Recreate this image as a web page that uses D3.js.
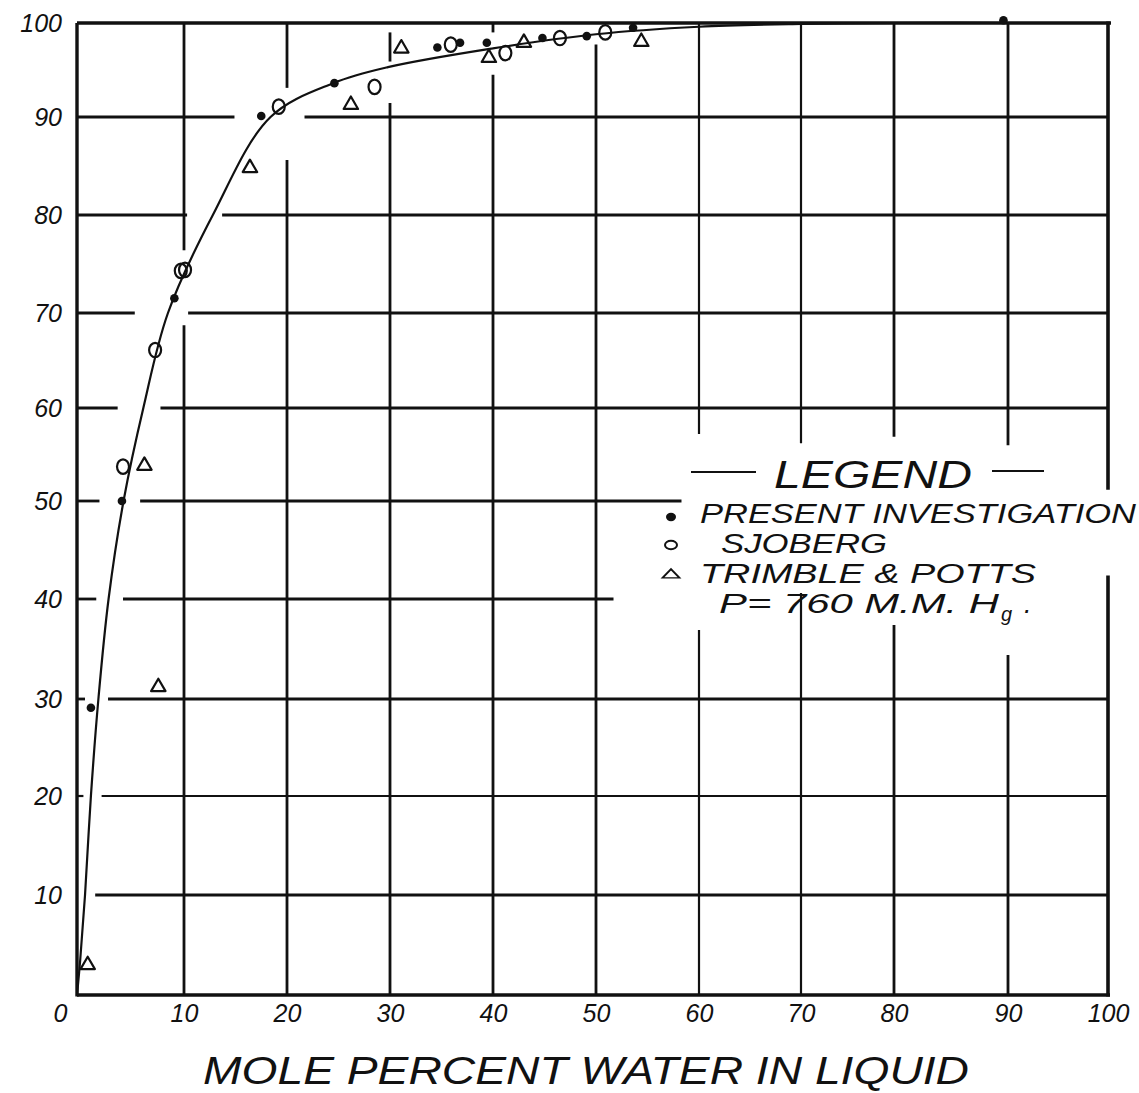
<!DOCTYPE html>
<html>
<head>
<meta charset="utf-8">
<script src="https://cdn.jsdelivr.net/npm/d3@7"></script>
<style>
  html, body { margin: 0; padding: 0; background: #fff; }
  svg { display: block; }
  text { font-family: "Liberation Sans", Arial, sans-serif; font-style: italic; fill: #111; }
</style>
</head>
<body>
<svg id="chart" width="1139" height="1093"></svg>
<script>
// ---------------- data ----------------
const xTicks = [0, 10, 20, 30, 40, 50, 60, 70, 80, 90, 100];
const yTicks = [0, 10, 20, 30, 40, 50, 60, 70, 80, 90, 100];
const xTickLabels = ["0", "10", "20", "30", "40", "50", "60", "70", "80", "90", "100"];
const yTickLabels = ["", "10", "20", "30", "40", "50", "60", "70", "80", "90", "100"];

// Present investigation (filled dots)
const presentX = [1.3, 4.2, 9.1, 17.5, 24.6, 34.6, 36.8, 39.4, 44.8, 49.1, 53.6, 89.6];
const presentY = [29.1, 50.0, 71.5, 90.1, 93.6, 97.4, 97.9, 97.9, 98.4, 98.6, 99.5, 100.3];

// Sjoberg (open circles)
const sjobergX = [4.3, 7.3, 9.7, 10.1, 19.2, 28.5, 35.9, 41.2, 46.5, 50.9];
const sjobergY = [53.7, 66.1, 74.3, 74.4, 91.1, 93.2, 97.7, 96.8, 98.4, 99.0];

// Trimble & Potts (open triangles)
const trimbleX = [1.0, 6.3, 7.6, 16.4, 26.2, 31.1, 39.6, 43.0, 54.4];
const trimbleY = [3.0, 53.8, 31.2, 84.8, 91.3, 97.3, 96.3, 97.9, 98.0];

// Smooth curve drawn through the data
const curveX = [0, 0.3, 0.75, 1.3, 2.0, 2.95, 4.35, 6.2, 8.5, 12.8, 18.4, 24.5, 29.8, 40, 50, 60, 70, 80, 90, 100];
const curveY = [0, 3.5, 10, 20, 30, 40, 50, 60, 70, 80, 90, 93.6, 95.3, 97.3, 98.8, 99.6, 99.9, 100, 100, 100];

const xTitle = "MOLE PERCENT WATER IN LIQUID";
const legendTitle = "LEGEND";
const legendLabels = ["PRESENT INVESTIGATION", "SJOBERG", "TRIMBLE & POTTS"];
const pressureNote = "P= 760 M.M. H";
const pressureSub = "g";

// ---------------- layout / style ----------------
// hand-ruled grid: the scales follow the drawn grid lines
const x = d3.scaleLinear().domain(xTicks).range([77, 184, 287, 390, 493, 596, 699, 801, 894, 1008, 1108]);
const y = d3.scaleLinear().domain(yTicks).range([995, 895, 796, 699, 599, 501, 408, 313, 215, 117, 23]);

// erased portions of the grid lines (data units), as on the drawing
const hGaps = {
  10: [[0, 1.7]], 20: [[0.6, 2.3]], 30: [[0.75, 2.9]], 40: [[1.8, 4.3], [51.7, 100]],
  50: [[2.1, 5.9], [58.3, 100]], 60: [[3.8, 7.8]], 70: [[5.4, 10.4]], 80: [[10.3, 13.7]], 90: [[14.9, 21.7]]
};
const vGaps = {
  10: [[68.7, 76.4]], 20: [[85.6, 93.1]], 30: [[91.5, 95.9], [99.0, 100]], 40: [[94.5, 99.0]],
  50: [[97.7, 100]], 60: [[36.9, 57.2]], 70: [[40.6, 56.2]], 80: [[37.4, 56.9]], 90: [[34.4, 56.0]], 100: [[42.4, 51.2]]
};

function segments(gaps) {
  const out = [];
  let start = 0;
  (gaps || []).slice().sort((a, b) => a[0] - b[0]).forEach(g => {
    if (g[0] > start) out.push([start, g[0]]);
    start = Math.max(start, g[1]);
  });
  if (start < 100) out.push([start, 100]);
  return out;
}

const svg = d3.select("#chart");
svg.append("rect").attr("width", 1139).attr("height", 1093).attr("fill", "#fff");

const ink = "#111";
const grid = svg.append("g").attr("stroke", ink).attr("stroke-linecap", "butt");

// horizontal grid lines
yTicks.filter(v => v > 0 && v < 100).forEach(v => {
  segments(hGaps[v]).forEach(s => {
    grid.append("line")
      .attr("x1", x(s[0])).attr("x2", x(s[1]))
      .attr("y1", y(v)).attr("y2", y(v))
      .attr("stroke-width", v === 20 ? 2.2 : 2.8);
  });
});
// vertical grid lines
xTicks.filter(v => v > 0 && v < 100).forEach(v => {
  segments(vGaps[v]).forEach(s => {
    grid.append("line")
      .attr("x1", x(v)).attr("x2", x(v))
      .attr("y1", y(s[0])).attr("y2", y(s[1]))
      .attr("stroke-width", (v === 60 || v === 70) ? 2.2 : 2.8);
  });
});
// frame
grid.append("line").attr("x1", x(0)).attr("x2", x(100) + 3).attr("y1", y(100)).attr("y2", y(100)).attr("stroke-width", 3.6);
grid.append("line").attr("x1", x(0)).attr("x2", x(100) + 2).attr("y1", y(0)).attr("y2", y(0)).attr("stroke-width", 3.4);
grid.append("line").attr("x1", x(0)).attr("x2", x(0)).attr("y1", y(0) + 1.5).attr("y2", y(100)).attr("stroke-width", 3.4);
segments(vGaps[100]).forEach(s => {
  grid.append("line").attr("x1", x(100)).attr("x2", x(100))
    .attr("y1", y(s[0]) + (s[0] === 0 ? 1.5 : 0)).attr("y2", y(s[1]) - (s[1] === 100 ? 1.5 : 0))
    .attr("stroke-width", 3.6);
});

// axes (labels only)
const gx = svg.append("g").attr("transform", `translate(0,${y(0)})`)
  .call(d3.axisBottom(x).tickValues(xTicks).tickSize(0).tickPadding(9)
    .tickFormat((d, i) => xTickLabels[i]));
gx.select(".domain").remove();
gx.selectAll("text").attr("font-size", 25).attr("dx", d => d === 0 ? -17 : 0);

const gy = svg.append("g").attr("transform", `translate(${x(0)},0)`)
  .call(d3.axisLeft(y).tickValues(yTicks).tickSize(0).tickPadding(15)
    .tickFormat((d, i) => yTickLabels[i]));
gy.select(".domain").remove();
gy.selectAll("text").attr("font-size", 25);

// curve
const curvePts = curveX.map((v, i) => [v, curveY[i]]);
svg.append("path")
  .datum(curvePts)
  .attr("fill", "none").attr("stroke", ink).attr("stroke-width", 2.2)
  .attr("d", d3.line().x(d => x(d[0])).y(d => y(d[1])).curve(d3.curveCatmullRom.alpha(0.5)));

// markers
const present = presentX.map((v, i) => [v, presentY[i]]);
const sjoberg = sjobergX.map((v, i) => [v, sjobergY[i]]);
const trimble = trimbleX.map((v, i) => [v, trimbleY[i]]);

svg.append("g").selectAll("ellipse").data(sjoberg).join("ellipse")
  .attr("cx", d => x(d[0])).attr("cy", d => y(d[1]))
  .attr("rx", 6).attr("ry", 7.2)
  .attr("fill", "none").attr("stroke", ink).attr("stroke-width", 2.2);

const tri = d3.symbol().type(d3.symbolTriangle).size(90);
svg.append("g").selectAll("path").data(trimble).join("path")
  .attr("transform", d => `translate(${x(d[0])},${y(d[1])})`)
  .attr("d", tri)
  .attr("fill", "none").attr("stroke", ink).attr("stroke-width", 2.2).attr("stroke-linejoin", "round");

svg.append("g").selectAll("circle").data(present).join("circle")
  .attr("cx", d => x(d[0])).attr("cy", d => y(d[1]))
  .attr("r", 4.3).attr("fill", ink);

// legend
const lg = svg.append("g");
lg.append("line").attr("x1", 691).attr("x2", 756).attr("y1", 472).attr("y2", 472).attr("stroke", ink).attr("stroke-width", 2);
lg.append("line").attr("x1", 992).attr("x2", 1044).attr("y1", 471).attr("y2", 471).attr("stroke", ink).attr("stroke-width", 2);
lg.append("text").attr("x", 774).attr("y", 488).attr("font-size", 38)
  .attr("textLength", 198).attr("lengthAdjust", "spacingAndGlyphs").text(legendTitle);

lg.append("ellipse").attr("cx", 671).attr("cy", 517).attr("rx", 5).attr("ry", 4.2).attr("fill", ink);
lg.append("ellipse").attr("cx", 671).attr("cy", 545).attr("rx", 6).attr("ry", 4.2)
  .attr("fill", "none").attr("stroke", ink).attr("stroke-width", 2);
lg.append("path").attr("transform", "translate(671,575) scale(1.25,0.75)")
  .attr("d", d3.symbol().type(d3.symbolTriangle).size(80))
  .attr("fill", "none").attr("stroke", ink).attr("stroke-width", 1.8);

const legendRows = [
  { x: 700, y: 523, len: 436 },
  { x: 721, y: 553, len: 166 },
  { x: 700, y: 583, len: 336 }
];
legendLabels.forEach((t, i) => {
  lg.append("text").attr("x", legendRows[i].x).attr("y", legendRows[i].y)
    .attr("font-size", 27).attr("textLength", legendRows[i].len)
    .attr("lengthAdjust", "spacingAndGlyphs").text(t);
});
lg.append("text").attr("x", 719).attr("y", 613).attr("font-size", 27)
  .attr("textLength", 280).attr("lengthAdjust", "spacingAndGlyphs").text(pressureNote);
lg.append("text").attr("x", 1001).attr("y", 621).attr("font-size", 20).text(pressureSub);
lg.append("text").attr("x", 1024).attr("y", 613).attr("font-size", 27).text(".");

// x-axis title
svg.append("text").attr("x", 203).attr("y", 1084).attr("font-size", 38)
  .attr("textLength", 766).attr("lengthAdjust", "spacingAndGlyphs").text(xTitle);
</script>
</body>
</html>
